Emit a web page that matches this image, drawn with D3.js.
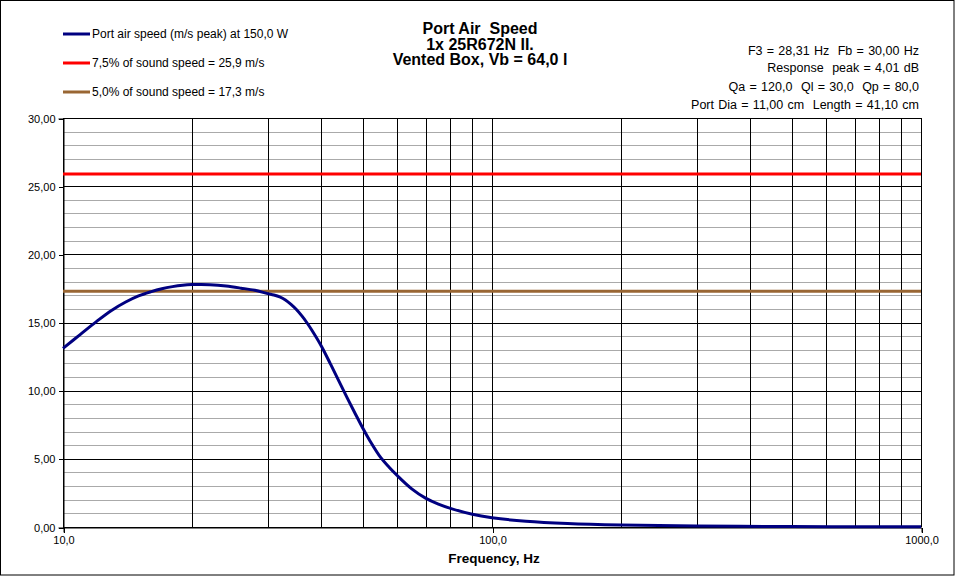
<!DOCTYPE html>
<html>
<head>
<meta charset="utf-8">
<script src="https://cdn.jsdelivr.net/npm/d3@7"></script>
<style>
  html, body { margin: 0; padding: 0; background: #fff; }
  svg { display: block; font-family: "Liberation Sans", Arial, sans-serif; }
  svg text { white-space: pre; }
</style>
</head>
<body>
<svg id="chart" width="955" height="576"></svg>
<script>
// ---- data ----
const freqHz = [10, 11, 12, 13, 14, 15, 16, 17, 18, 19, 20, 21, 22, 24, 26, 28, 30, 31, 32, 33, 34, 35, 36, 37, 38, 40, 42, 44, 46, 48, 50, 52, 55, 57.5, 60, 65, 70, 75, 80, 90, 100, 120, 150, 200, 300, 500, 700, 1000];
const portSpeed = [13.1, 14.15, 15.1, 15.9, 16.5, 16.95, 17.25, 17.48, 17.63, 17.73, 17.78, 17.79, 17.77, 17.67, 17.52, 17.36, 17.12, 17.02, 16.88, 16.65, 16.33, 15.95, 15.5, 15.0, 14.45, 13.28, 11.97, 10.68, 9.45, 8.31, 7.24, 6.29, 5.1, 4.4, 3.8, 2.8, 2.12, 1.68, 1.37, 0.93, 0.68, 0.42, 0.25, 0.14, 0.07, 0.03, 0.02, 0.015];
const limit75 = 25.9;
const limit50 = 17.3;
const seriesNames = ["Port air speed (m/s peak) at 150,0 W", "7,5% of sound speed = 25,9 m/s", "5,0% of sound speed = 17,3 m/s"];
const seriesColors = ["#000080", "#ff0000", "#996633"];
const titleLines = ["Port Air  Speed", "1x 25R672N II.", "Vented Box, Vb = 64,0 l"];
const infoLines = ["F3 = 28,31 Hz  Fb = 30,00 Hz", "Response  peak = 4,01 dB", "Qa = 120,0  Ql = 30,0  Qp = 80,0", "Port Dia = 11,00 cm  Length = 41,10 cm"];
const xTickValues = [10, 100, 1000];
const xTickLabels = ["10,0", "100,0", "1000,0"];
const yTickValues = [0, 5, 10, 15, 20, 25, 30];
const yTickLabels = ["0,00", "5,00", "10,00", "15,00", "20,00", "25,00", "30,00"];
const xAxisTitle = "Frequency, Hz";

// ---- layout ----
const W = 955, H = 576;
const L = 63, R = 921, T = 118, B = 527;
const svg = d3.select("#chart");

svg.append("rect").attr("x", 0.5).attr("y", 0.5).attr("width", W - 1.5).attr("height", H - 1.5)
  .attr("fill", "#fff").attr("stroke", "#000").attr("stroke-width", 1);

const x = d3.scaleLog().domain([10, 1000]).range([L, R]);
const y = d3.scaleLinear().domain([0, 30]).range([B, T]);

const grid = svg.append("g").attr("shape-rendering", "crispEdges");
// minor horizontal
grid.selectAll("line.hmin").data(d3.range(0, 31).filter(v => v % 5 !== 0)).join("line")
  .attr("x1", L).attr("x2", R)
  .attr("y1", d => Math.round(y(d)) + 0.5).attr("y2", d => Math.round(y(d)) + 0.5)
  .attr("stroke", "#aaaaaa").attr("stroke-width", 1);
// major horizontal
grid.selectAll("line.hmaj").data(yTickValues).join("line")
  .attr("x1", L).attr("x2", R)
  .attr("y1", d => Math.round(y(d)) + 0.5).attr("y2", d => Math.round(y(d)) + 0.5)
  .attr("stroke", "#000").attr("stroke-width", 1);
// vertical log grid
const vGrid = [];
[10, 100].forEach(dec => { for (let k = 1; k <= 9; k++) vGrid.push(dec * k); });
vGrid.push(1000);
grid.selectAll("line.v").data(vGrid).join("line")
  .attr("x1", d => Math.round(x(d)) + 0.5).attr("x2", d => Math.round(x(d)) + 0.5)
  .attr("y1", T).attr("y2", B)
  .attr("stroke", "#000").attr("stroke-width", 1);

// axes
const yAxis = d3.axisLeft(y).tickValues(yTickValues).tickFormat((d, i) => yTickLabels[i]).tickSize(5).tickPadding(3);
const gy = svg.append("g").attr("transform", `translate(${L + 0.5},0.5)`).call(yAxis);
gy.select(".domain").attr("stroke", "#000");
gy.selectAll("text").attr("font-size", 11).attr("fill", "#000").attr("font-family", "Liberation Sans, Arial, sans-serif");
gy.selectAll("line").attr("shape-rendering", "crispEdges");

const xAxis = d3.axisBottom(x).tickValues(xTickValues).tickFormat((d, i) => xTickLabels[i]).tickSize(5).tickPadding(4);
const gx = svg.append("g").attr("transform", `translate(0.5,${B + 0.5})`).call(xAxis);
gx.select(".domain").attr("stroke", "#000");
gx.selectAll("text").attr("font-size", 11).attr("fill", "#000").attr("font-family", "Liberation Sans, Arial, sans-serif");
gx.selectAll("line").attr("shape-rendering", "crispEdges");

// limit lines
svg.append("line").attr("x1", L).attr("x2", R).attr("y1", y(limit75)).attr("y2", y(limit75))
  .attr("stroke", seriesColors[1]).attr("stroke-width", 3);
svg.append("line").attr("x1", L).attr("x2", R).attr("y1", y(limit50)).attr("y2", y(limit50))
  .attr("stroke", seriesColors[2]).attr("stroke-width", 3);

// curve
const line = d3.line().x((d, i) => x(freqHz[i])).y(d => y(d)).curve(d3.curveCatmullRom.alpha(0.5));
svg.append("path").datum(portSpeed).attr("d", line)
  .attr("fill", "none").attr("stroke", seriesColors[0]).attr("stroke-width", 3).attr("stroke-linejoin", "round");

// legend
const legY = [34, 63, 92];
const leg = svg.append("g");
seriesNames.forEach((name, i) => {
  leg.append("line").attr("x1", 63).attr("x2", 90).attr("y1", legY[i]).attr("y2", legY[i])
    .attr("stroke", seriesColors[i]).attr("stroke-width", 3);
  leg.append("text").attr("x", 92).attr("y", legY[i] + 4).attr("font-size", 12).attr("fill", "#000").text(name);
});

// title
const titleY = [34, 49.5, 65];
titleLines.forEach((t, i) => {
  svg.append("text").attr("x", 480).attr("y", titleY[i]).attr("text-anchor", "middle")
    .attr("font-size", 16).attr("font-weight", "bold").attr("fill", "#000").text(t);
});

// info text
const infoY = [54.5, 72, 90.5, 109];
infoLines.forEach((t, i) => {
  svg.append("text").attr("x", 919).attr("y", infoY[i]).attr("text-anchor", "end")
    .attr("font-size", 12.5).attr("word-spacing", 0.8).attr("fill", "#000").text(t);
});

// x axis title
svg.append("text").attr("x", 494).attr("y", 563).attr("text-anchor", "middle")
  .attr("font-size", 13.5).attr("font-weight", "bold").attr("fill", "#000").text(xAxisTitle);
</script>
</body>
</html>
